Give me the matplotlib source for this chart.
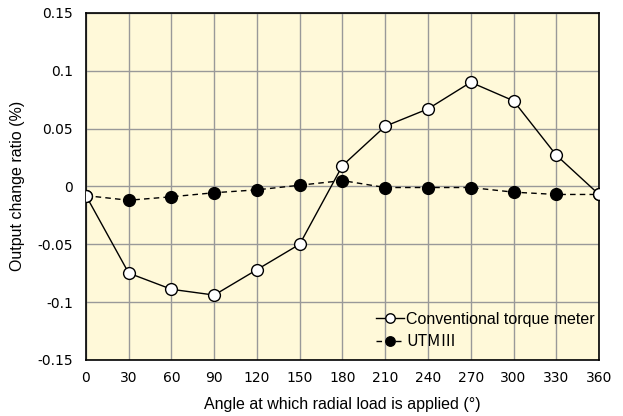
import matplotlib
matplotlib.use("Agg")
import matplotlib.pyplot as plt

angles = [0, 30, 60, 90, 120, 150, 180, 210, 240, 270, 300, 330, 360]
conventional = [-0.008, -0.075, -0.089, -0.094, -0.072, -0.050, 0.018,
                0.052, 0.067, 0.090, 0.074, 0.027, -0.007]
utm = [-0.008, -0.012, -0.009, -0.0055, -0.003, 0.001, 0.005,
       -0.001, -0.001, -0.001, -0.005, -0.007, -0.007]
yticks = [-0.15, -0.1, -0.05, 0, 0.05, 0.1, 0.15]
ytick_labels = ["-0.15", "-0.1", "-0.05", "0", "0.05", "0.1", "0.15"]
xticks = angles
labels = ["Conventional torque meter", "UTMⅢ"]

fig = plt.figure(figsize=(6.23, 4.16), dpi=100)
ax = fig.add_axes([0.138, 0.135, 0.8235, 0.834])
ax.set_facecolor("#FFF9D9")

ax.plot(angles, utm, linestyle=(0, (4, 3)), color="black", lw=1.0,
        marker="o", markersize=8.5, markerfacecolor="black",
        markeredgecolor="black", label=labels[1], zorder=3)
ax.plot(angles, conventional, linestyle="-", color="black", lw=1.0,
        marker="o", markersize=8.5, markerfacecolor="white",
        markeredgecolor="black", markeredgewidth=1.0, label=labels[0], zorder=4)

ax.set_xlim(0, 360)
ax.set_ylim(-0.15, 0.15)
ax.set_xticks(xticks)
ax.set_xticklabels([str(a) for a in xticks], family="DejaVu Sans", fontsize=10)
ax.set_yticks(yticks)
ax.set_yticklabels(ytick_labels, family="DejaVu Sans", fontsize=10)
ax.tick_params(axis="y", length=0, pad=9.5)
ax.tick_params(axis="x", length=0, pad=8)
ax.grid(True, color="#999999", lw=1.0)
ax.set_axisbelow(True)
for s in ax.spines.values():
    s.set_linewidth(1.2)
    s.set_color("black")

ax.set_xlabel("Angle at which radial load is applied (°)", family="Liberation Sans",
              fontsize=11.5, labelpad=9)
ax.set_ylabel("Output change ratio (%)", family="Liberation Sans",
              fontsize=11.5, labelpad=9)

h, l = ax.get_legend_handles_labels()
leg = ax.legend(h[::-1], l[::-1], loc="lower right", frameon=False,
                prop={"family": ["Liberation Sans", "DejaVu Sans"], "size": 11.5},
                handlelength=1.75, handletextpad=0.15, labelspacing=0.4,
                borderaxespad=0, borderpad=0, markerscale=0.8,
                bbox_to_anchor=(0.992, 0.027))
leg.get_texts()[1].set_family(["Noto Sans CJK JP", "DejaVu Sans"])

fig.savefig("out.png", dpi=100)
